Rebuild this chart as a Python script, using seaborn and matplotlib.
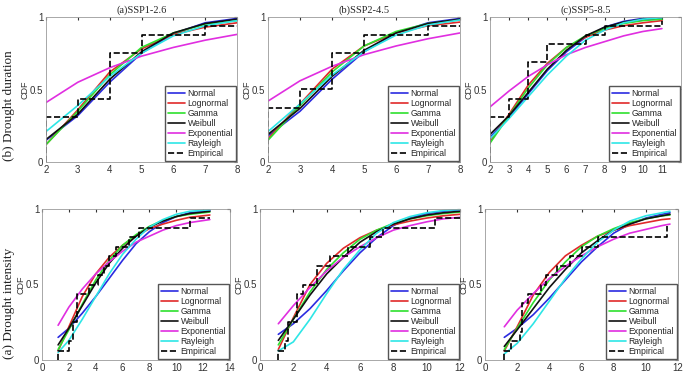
import matplotlib
matplotlib.use("Agg")
import matplotlib.pyplot as plt
import seaborn as sns


# ==================================
# DATA
# ==================================

series_names = ["Normal", "Lognormal", "Gamma", "Weibull", "Exponential", "Rayleigh"]
series_colors = ["#2b2be0", "#e02a2a", "#2ee02e", "#111111", "#e02ee0", "#2ee6e6"]

titles = ["(a)SSP1-2.6", "(b)SSP2-4.5", "(c)SSP5-8.5"]

# drought duration
dur_x_a = [2, 3, 4, 5, 6, 7, 8]
dur_a = {
    "Normal":      [0.15, 0.32, 0.55, 0.75, 0.885, 0.96, 0.99],
    "Lognormal":   [0.12, 0.36, 0.62, 0.78, 0.88, 0.93, 0.96],
    "Gamma":       [0.12, 0.35, 0.60, 0.79, 0.89, 0.95, 0.975],
    "Weibull":     [0.155, 0.33, 0.57, 0.76, 0.89, 0.955, 0.985],
    "Exponential": [0.41, 0.55, 0.65, 0.73, 0.79, 0.84, 0.88],
    "Rayleigh":    [0.21, 0.39, 0.59, 0.75, 0.87, 0.94, 0.975],
}
emp_x_a = [2, 2, 3, 4, 5, 6, 7, 8]
emp_y_a = [0, 0.3125, 0.4375, 0.75, 0.875, 0.875, 0.9375, 0.9375]

dur_x_b = [2, 3, 4, 5, 6, 7, 8]
dur_b = {
    "Normal":      [0.18, 0.35, 0.57, 0.76, 0.89, 0.96, 0.99],
    "Lognormal":   [0.16, 0.40, 0.64, 0.80, 0.89, 0.94, 0.965],
    "Gamma":       [0.15, 0.39, 0.62, 0.80, 0.90, 0.955, 0.98],
    "Weibull":     [0.19, 0.37, 0.59, 0.77, 0.89, 0.955, 0.985],
    "Exponential": [0.42, 0.56, 0.66, 0.74, 0.80, 0.85, 0.89],
    "Rayleigh":    [0.21, 0.40, 0.60, 0.76, 0.875, 0.945, 0.98],
}
emp_x_b = [2, 2, 3, 4, 5, 6, 7, 8]
emp_y_b = [0, 0.375, 0.5, 0.75, 0.875, 0.875, 0.9375, 0.9375]

dur_x_c = [2, 3, 4, 5, 6, 7, 8, 9, 10, 11]
dur_c = {
    "Normal":      [0.17, 0.31, 0.47, 0.63, 0.76, 0.86, 0.93, 0.97, 0.99, 1.0],
    "Lognormal":   [0.14, 0.33, 0.53, 0.68, 0.79, 0.86, 0.91, 0.94, 0.96, 0.975],
    "Gamma":       [0.13, 0.32, 0.51, 0.67, 0.79, 0.87, 0.92, 0.955, 0.975, 0.985],
    "Weibull":     [0.19, 0.32, 0.48, 0.64, 0.77, 0.87, 0.93, 0.965, 0.985, 0.995],
    "Exponential": [0.38, 0.49, 0.59, 0.67, 0.74, 0.79, 0.83, 0.87, 0.90, 0.92],
    "Rayleigh":    [0.16, 0.30, 0.45, 0.60, 0.73, 0.84, 0.91, 0.96, 0.985, 0.995],
}
emp_x_c = [2, 2, 3, 4, 5, 6, 7, 8, 11, 11]
emp_y_c = [0, 0.3125, 0.4375, 0.6875, 0.8125, 0.8125, 0.875, 0.9375, 0.9375, 0.97]

# drought intensity
int_x_a = [1.2, 2, 3, 4, 5, 6, 7, 8, 9, 10, 11, 12.5]
int_a = {
    "Normal":      [0.15, 0.21, 0.31, 0.42, 0.54, 0.66, 0.77, 0.85, 0.91, 0.95, 0.975, 0.99],
    "Lognormal":   [0.06, 0.22, 0.42, 0.57, 0.68, 0.76, 0.82, 0.87, 0.90, 0.925, 0.945, 0.96],
    "Gamma":       [0.07, 0.20, 0.37, 0.53, 0.66, 0.76, 0.83, 0.885, 0.925, 0.95, 0.965, 0.98],
    "Weibull":     [0.10, 0.21, 0.36, 0.51, 0.64, 0.74, 0.82, 0.88, 0.92, 0.95, 0.97, 0.985],
    "Exponential": [0.23, 0.35, 0.47, 0.57, 0.65, 0.72, 0.78, 0.82, 0.86, 0.89, 0.91, 0.93],
    "Rayleigh":    [0.05, 0.13, 0.27, 0.42, 0.57, 0.70, 0.80, 0.88, 0.93, 0.965, 0.985, 0.995],
}
iemp_x_a = [1.2, 1.2, 2.0, 2.3, 2.6, 3.5, 4.2, 4.6, 5.0, 5.5, 6.5, 7.2, 11.0, 12.5]
iemp_y_a = [0, 0.0625, 0.125, 0.25, 0.4375, 0.5, 0.5625, 0.625, 0.6875, 0.75, 0.8125, 0.875, 0.9375, 0.9375]

int_x_b = [1.1, 2, 3, 4, 5, 6, 7, 8, 9, 10, 11, 12]
int_b = {
    "Normal":      [0.17, 0.24, 0.34, 0.46, 0.59, 0.71, 0.81, 0.89, 0.94, 0.97, 0.985, 0.995],
    "Lognormal":   [0.07, 0.28, 0.50, 0.64, 0.74, 0.81, 0.86, 0.895, 0.92, 0.94, 0.955, 0.965],
    "Gamma":       [0.10, 0.27, 0.45, 0.60, 0.71, 0.80, 0.86, 0.905, 0.935, 0.955, 0.97, 0.98],
    "Weibull":     [0.13, 0.27, 0.43, 0.57, 0.68, 0.78, 0.85, 0.90, 0.935, 0.96, 0.975, 0.985],
    "Exponential": [0.24, 0.36, 0.48, 0.59, 0.68, 0.75, 0.81, 0.86, 0.89, 0.915, 0.935, 0.945],
    "Rayleigh":    [0.06, 0.12, 0.27, 0.44, 0.60, 0.73, 0.84, 0.91, 0.95, 0.975, 0.99, 0.997],
}
iemp_x_b = [1.1, 1.1, 1.5, 1.7, 2.2, 2.6, 3.4, 4.2, 5.3, 6.6, 7.4, 10.5, 12.0]
iemp_y_b = [0, 0.0625, 0.125, 0.25, 0.4375, 0.5, 0.625, 0.6875, 0.75, 0.8125, 0.875, 0.9375, 0.9375]

int_x_c = [1.2, 2, 3, 4, 5, 6, 7, 8, 9, 10, 11, 11.5]
int_c = {
    "Normal":      [0.15, 0.21, 0.30, 0.41, 0.53, 0.65, 0.75, 0.84, 0.90, 0.94, 0.965, 0.975],
    "Lognormal":   [0.06, 0.22, 0.43, 0.58, 0.69, 0.76, 0.82, 0.86, 0.89, 0.91, 0.93, 0.935],
    "Gamma":       [0.07, 0.21, 0.38, 0.53, 0.65, 0.75, 0.82, 0.87, 0.91, 0.935, 0.955, 0.96],
    "Weibull":     [0.09, 0.20, 0.34, 0.48, 0.60, 0.71, 0.79, 0.86, 0.90, 0.935, 0.955, 0.965],
    "Exponential": [0.22, 0.33, 0.44, 0.54, 0.62, 0.69, 0.75, 0.80, 0.84, 0.865, 0.89, 0.90],
    "Rayleigh":    [0.04, 0.11, 0.24, 0.39, 0.54, 0.67, 0.78, 0.86, 0.92, 0.955, 0.975, 0.985],
}
iemp_x_c = [1.2, 1.2, 1.6, 2.2, 2.3, 2.7, 3.5, 3.8, 4.5, 5.3, 6.0, 7.0, 11.3, 11.3]
iemp_y_c = [0, 0.0625, 0.125, 0.1875, 0.375, 0.4375, 0.5, 0.5625, 0.625, 0.6875, 0.75, 0.8125, 0.8125, 0.89]


# ==================================
# FIGURE
# ==================================

sns.set_style("white")
plt.rcParams["font.family"] = ["Liberation Sans", "DejaVu Sans"]

W, H = 685, 374
fig = plt.figure(figsize=(6.85, 3.74), dpi=100)


def add_px_axes(left, right, top, bottom):
    return fig.add_axes([left / W, 1 - bottom / H, (right - left) / W, (bottom - top) / H])


def draw_panel(ax, x, curves, ex, ey, xlim, xticks, title=None):
    for name, color in zip(series_names, series_colors):
        sns.lineplot(x=x, y=curves[name], ax=ax, color=color, linewidth=1.2,
                     estimator=None, sort=False, label=name)
    sns.lineplot(x=ex, y=ey, ax=ax, color="black", linewidth=1.2, linestyle="--",
                 drawstyle="steps-post", estimator=None, sort=False, label="Empirical")

    ax.set_xlim(*xlim)
    ax.set_ylim(0, 1)
    ax.set_xticks(xticks)
    ax.set_yticks([0, 0.5, 1])
    ax.set_yticklabels(["0", "0.5", "1"])
    ax.tick_params(direction="in", length=2.5, labelsize=7, colors="#333333",
                   top=True, right=True, pad=2)
    for sp in ax.spines.values():
        sp.set_color("#9a9a9a")
        sp.set_linewidth(0.6)
    ax.set_xlabel("")
    ax.set_ylabel("CDF", fontsize=6.5, color="#333333", labelpad=0)

    ax.legend(loc="lower right", fontsize=6.2, frameon=True, fancybox=False,
              edgecolor="#555555", framealpha=1, borderaxespad=0.15,
              handlelength=2.0, handletextpad=0.3, labelspacing=0.12,
              borderpad=0.3)

    if title:
        ax.set_title(title, fontsize=7.5, family=["Liberation Serif"], pad=3)


# top row: drought duration
ax1 = add_px_axes(46, 237, 17, 162)
draw_panel(ax1, dur_x_a, dur_a, emp_x_a, emp_y_a, (2, 8), range(2, 9), titles[0])
ax2 = add_px_axes(268, 460, 17, 162)
draw_panel(ax2, dur_x_b, dur_b, emp_x_b, emp_y_b, (2, 8), range(2, 9), titles[1])
ax3 = add_px_axes(490, 681, 17, 162)
draw_panel(ax3, dur_x_c, dur_c, emp_x_c, emp_y_c, (2, 12), range(2, 12), titles[2])

# bottom row: drought intensity
ax4 = add_px_axes(42, 230, 209, 360)
draw_panel(ax4, int_x_a, int_a, iemp_x_a, iemp_y_a, (0, 14), range(0, 15, 2))
ax5 = add_px_axes(260, 460, 209, 360)
draw_panel(ax5, int_x_b, int_b, iemp_x_b, iemp_y_b, (0, 12), range(0, 13, 2))
ax6 = add_px_axes(485, 678, 209, 360)
draw_panel(ax6, int_x_c, int_c, iemp_x_c, iemp_y_c, (0, 12), range(0, 13, 2))

# row labels
fig.text(9 / W, 1 - 106 / H, "(b) Drought duration", rotation=90, va="center", ha="center",
         fontsize=9.5, family=["Liberation Serif"], color="#222222")
fig.text(9 / W, 1 - 303 / H, "(a) Drought intensity", rotation=90, va="center", ha="center",
         fontsize=9.5, family=["Liberation Serif"], color="#222222")

fig.savefig("out.png", dpi=100)
plt.close(fig)
